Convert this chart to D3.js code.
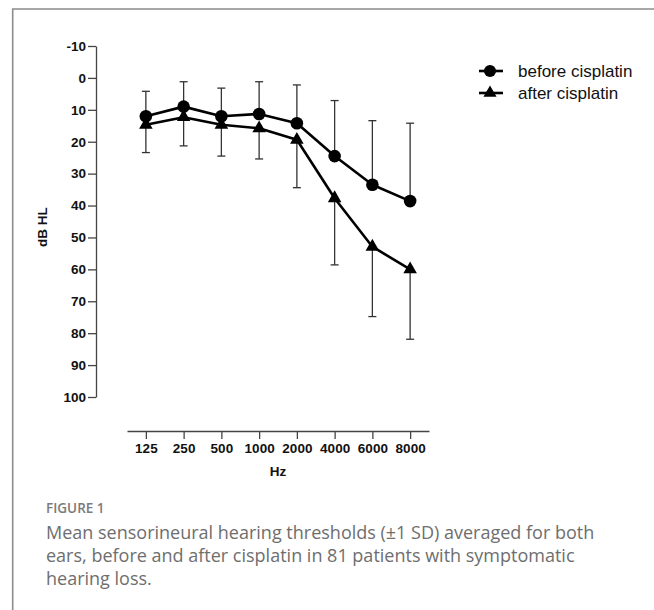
<!DOCTYPE html>
<html>
<head>
<meta charset="utf-8">
<script src="https://cdn.jsdelivr.net/npm/d3@7"></script>
<style>
  html, body { margin: 0; padding: 0; background: #fff; }
  svg { display: block; }
</style>
</head>
<body>
<svg id="chart" width="654" height="610"></svg>
<script>
// ---- data ----
const frequencies = ["125", "250", "500", "1000", "2000", "4000", "6000", "8000"];
const beforeMean = [12, 9, 12, 11.3, 14.2, 24.5, 33.5, 38.6];
const beforeSD   = [7.8, 7.8, 8.8, 10.1, 12, 17.4, 20.1, 24.4];
const afterMean  = [14.7, 12.3, 14.7, 15.8, 19.4, 37.7, 52.9, 60];
const afterSD    = [8.7, 9, 9.8, 9.6, 15, 20.9, 21.9, 21.9];
const yTicks = [-10, 0, 10, 20, 30, 40, 50, 60, 70, 80, 90, 100];
const seriesNames = ["before cisplatin", "after cisplatin"];
const captionTitle = "FIGURE 1";
const captionLines = [
  "Mean sensorineural hearing thresholds (\u00b11 SD) averaged for both",
  "ears, before and after cisplatin in 81 patients with symptomatic",
  "hearing loss."
];

const svg = d3.select("#chart");

// figure frame
svg.append("path")
  .attr("d", "M12.7,610 V9 H654")
  .attr("fill", "none")
  .attr("stroke", "#8c8c8c")
  .attr("stroke-width", 1.6);

const x = d3.scalePoint().domain(frequencies).range([127, 429]).padding(0.5);
const y = d3.scaleLinear().domain([-10, 100]).range([46, 397]);

const axisColor = "#444";
const tickFont = "'Liberation Sans', Arial, sans-serif";

// y axis
const gy = svg.append("g")
  .attr("transform", "translate(96,0)")
  .call(d3.axisLeft(y).tickValues(yTicks).tickSize(8).tickSizeOuter(0).tickPadding(2).tickFormat(d => String(d)));
gy.select(".domain").attr("stroke", axisColor).attr("stroke-width", 1.3);
gy.selectAll(".tick line").attr("stroke", axisColor).attr("stroke-width", 1.3);
gy.selectAll(".tick text")
  .attr("fill", "#111")
  .style("font-family", tickFont)
  .style("font-size", "13.5px")
  .style("font-weight", "bold");

// x axis
const gx = svg.append("g")
  .attr("transform", "translate(0,431)")
  .call(d3.axisBottom(x).tickSize(8).tickSizeOuter(0).tickPadding(4));
gx.select(".domain").attr("stroke", axisColor).attr("stroke-width", 1.3);
gx.selectAll(".tick line").attr("stroke", axisColor).attr("stroke-width", 1.3);
gx.selectAll(".tick text")
  .attr("fill", "#111")
  .style("font-family", tickFont)
  .style("font-size", "13.5px")
  .style("font-weight", "bold");

// axis titles
svg.append("text")
  .attr("x", 278).attr("y", 476)
  .attr("text-anchor", "middle")
  .style("font-family", tickFont).style("font-size", "13.5px").style("font-weight", "bold")
  .attr("fill", "#111")
  .text("Hz");

svg.append("text")
  .attr("transform", "translate(47,227) rotate(-90)")
  .attr("text-anchor", "middle")
  .style("font-family", tickFont).style("font-size", "13.5px").style("font-weight", "bold")
  .attr("fill", "#111")
  .text("dB HL");

// series
const series = [
  { name: seriesNames[1], mean: afterMean, sd: afterSD, dir: 1, symbol: d3.symbolTriangle, size: 80 },
  { name: seriesNames[0], mean: beforeMean, sd: beforeSD, dir: -1, symbol: d3.symbolCircle, size: 125 }
];

const line = d3.line().x((d, i) => x(frequencies[i])).y(d => y(d));

series.forEach(s => {
  const g = svg.append("g");
  // error bars (one-sided)
  s.mean.forEach((m, i) => {
    const cx = x(frequencies[i]);
    const end = m + s.dir * s.sd[i];
    g.append("line")
      .attr("x1", cx).attr("x2", cx)
      .attr("y1", y(m)).attr("y2", y(end))
      .attr("stroke", "#333").attr("stroke-width", 1.3);
    g.append("line")
      .attr("x1", cx - 4).attr("x2", cx + 4)
      .attr("y1", y(end)).attr("y2", y(end))
      .attr("stroke", "#333").attr("stroke-width", 1.3);
  });
  g.append("path")
    .datum(s.mean)
    .attr("d", line)
    .attr("fill", "none")
    .attr("stroke", "#000")
    .attr("stroke-width", 2.6)
    .attr("stroke-linejoin", "round");
  g.selectAll("path.mk")
    .data(s.mean)
    .join("path")
    .attr("class", "mk")
    .attr("transform", (d, i) => `translate(${x(frequencies[i])},${y(d)})`)
    .attr("d", d3.symbol().type(s.symbol).size(s.size))
    .attr("fill", "#000");
});

// legend
const legendFont = "'Liberation Sans', Arial, sans-serif";
const legendItems = [
  { name: seriesNames[0], symbol: d3.symbolCircle, size: 115, y: 71 },
  { name: seriesNames[1], symbol: d3.symbolTriangle, size: 75, y: 93 }
];
legendItems.forEach(it => {
  svg.append("line")
    .attr("x1", 479).attr("x2", 503)
    .attr("y1", it.y).attr("y2", it.y)
    .attr("stroke", "#000").attr("stroke-width", 2.6);
  svg.append("path")
    .attr("transform", `translate(490,${it.y})`)
    .attr("d", d3.symbol().type(it.symbol).size(it.size))
    .attr("fill", "#000");
  svg.append("text")
    .attr("x", 518).attr("y", it.y)
    .attr("dy", "0.35em")
    .style("font-family", legendFont).style("font-size", "17px")
    .attr("fill", "#111")
    .text(it.name);
});

// caption
const capFont = "'Open Sans', 'Noto Sans', sans-serif";
svg.append("text")
  .attr("x", 46).attr("y", 513)
  .style("font-family", capFont).style("font-size", "13.5px").style("font-weight", "600")
  .attr("fill", "#7a7a7a")
  .text(captionTitle);
captionLines.forEach((t, i) => {
  svg.append("text")
    .attr("x", 46).attr("y", 538.5 + i * 23)
    .style("font-family", capFont).style("font-size", "18px")
    .attr("fill", "#6e6e6e")
    .text(t);
});
</script>
</body>
</html>
